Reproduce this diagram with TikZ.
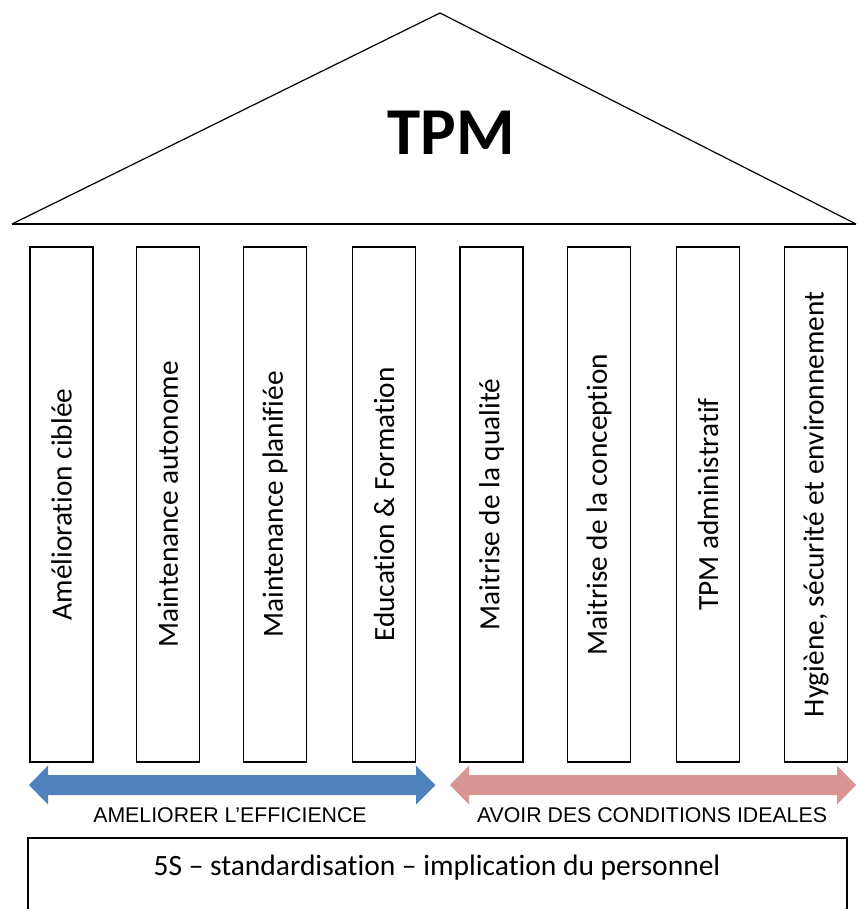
\documentclass[tikz,border=0pt]{standalone}
\usepackage{fontspec}
\setmainfont{Carlito}[Ligatures={NoCommon}]
\newfontfamily\arialfont{Liberation Sans}
\definecolor{arrowblue}{HTML}{4F81BD}
\definecolor{arrowpink}{HTML}{D99594}
\begin{document}
\begin{tikzpicture}[x=1pt,y=-1pt,
  pillar/.style={draw=black,line width=1.6pt,minimum width=63pt,minimum height=515pt,inner sep=0pt},
  pillartext/.style={rotate=90,font=\fontsize{29.3}{32}\selectfont,inner sep=0pt},
  caption/.style={font=\arialfont\fontsize{21.3}{24}\selectfont,inner sep=0pt}]
\useasboundingbox (0,0) rectangle (856,909);
% roof
\coordinate (apex) at (440,13);
\coordinate (roofL) at (12,224);
\coordinate (roofR) at (856,224);
\draw[line width=1.2pt,line join=miter] (roofL) -- (apex) -- (roofR);
\draw[line width=1.8pt] (roofL) -- (roofR);
\node[font=\bfseries\fontsize{67}{70}\selectfont,inner sep=0pt] (tpm) at (451,133) {TPM};
% pillars
\foreach \n/\x/\t in {p1/61.5/{Amélioration ciblée},
                      p2/168/{Maintenance autonome},
                      p3/275/{Maintenance planifiée},
                      p4/384/{Education \& Formation},
                      p5/491.5/{Maitrise de la qualité},
                      p6/599/{Maitrise de la conception},
                      p7/708/{TPM administratif},
                      p8/816/{Hygiène, sécurité et environnement}}{
  \node[pillar] (\n) at (\x,504.5) {};
  \node[pillartext] at (\n.center) {\t};
}
% arrows
\fill[arrowblue] (29,785) -- (48,765.5) -- (48,775) -- (416,775) -- (416,765.5) -- (435.5,785)
  -- (416,804.5) -- (416,795) -- (48,795) -- (48,804.5) -- cycle;
\fill[arrowpink] (450,785) -- (469,765.5) -- (469,775) -- (837,775) -- (837,765.5) -- (856,785)
  -- (837,804.5) -- (837,795) -- (469,795) -- (469,804.5) -- cycle;
\node[caption] (eff) at (230,815) {AMELIORER L’EFFICIENCE};
\node[caption] (cond) at (652,815) {AVOIR DES CONDITIONS IDEALES};
% base
\draw[line width=1.6pt] (28,920) -- (28,838) -- (847,838) -- (847,920);
\node[font=\fontsize{29.5}{32}\selectfont,inner sep=0pt] (base) at (437,868) {5S – standardisation – implication du personnel};
\end{tikzpicture}
\end{document}
